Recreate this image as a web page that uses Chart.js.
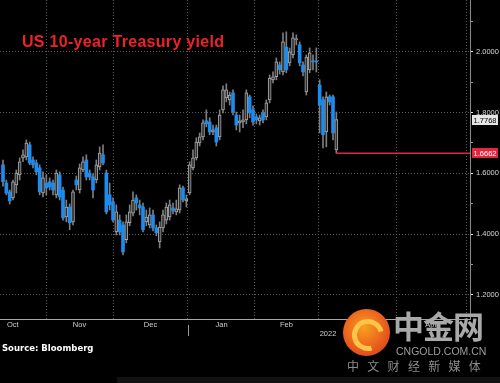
<!DOCTYPE html>
<html>
<head>
<meta charset="utf-8">
<title>US 10-year Treasury yield</title>
<script src="https://cdn.jsdelivr.net/npm/chart.js"></script>
<style>
  html, body { margin: 0; padding: 0; background: #000; }
  #wrap { position: relative; width: 500px; height: 383px; overflow: hidden; background: #000; }
  #title { position: absolute; left: 22px; top: 33px; font: bold 16px "Liberation Sans", Arial, sans-serif; letter-spacing: 0.3px; color: #ef2229; white-space: nowrap; }
  #source { position: absolute; left: 2px; top: 343px; font: bold 8.5px "DejaVu Sans", sans-serif; color: #fff; }
  .wm { position: absolute; white-space: nowrap; }
  #logo { left: 343px; top: 309px; width: 47px; height: 47px; border-radius: 50%;
          background: radial-gradient(circle at 45% 40%, #f6a11e 0%, #ee6a1e 45%, #d3301a 100%); }
  #logoIn { left: 352px; top: 319px; width: 22px; height: 22px; border-radius: 50%;
            border: 5px solid #ffc548; border-right-color: transparent; transform: rotate(30deg); }
  #cn1 { left: 393px; top: 302px; font: bold 31px "Noto Sans CJK SC", sans-serif; color: #a9a9a9; letter-spacing: -1px; }
  #cn2 { left: 396px; top: 345px; font: 10.5px "Liberation Sans", Arial, sans-serif; color: #9c9c9c; }
  #cn3 { left: 347px; top: 357px; font: 12px "Noto Sans CJK SC", sans-serif; color: #8c8c8c; letter-spacing: 8.3px; }
  #strip { position: absolute; left: 117px; top: 377px; width: 383px; height: 6px; background: #121212; }
</style>
</head>
<body>
<div id="wrap">
  <canvas id="chart"></canvas>
  <div id="title">US 10-year Treasury yield</div>
  <div id="source">Source: Bloomberg</div>
  <div id="strip"></div>
  <div class="wm" id="logo"></div>
  <div class="wm" id="logoIn"></div>
  <div class="wm" id="cn1">中金网</div>
  <div class="wm" id="cn2">CNGOLD.COM.CN</div>
  <div class="wm" id="cn3">中文财经新媒体</div>
</div>
<script>
// daily candles, Oct 2021 - early Mar 2022 (yield, %)
const opens = [
  1.628,1.568,1.539,1.519,1.562,1.595,1.651,1.654,1.694,1.644,
  1.634,1.618,1.535,1.568,1.572,1.568,1.529,1.595,1.545,1.456,
  1.489,1.440,1.578,1.545,1.611,1.644,1.601,1.588,1.578,1.621,
  1.661,1.601,1.529,1.506,1.407,1.446,1.430,1.381,1.437,1.469,
  1.519,1.496,1.489,1.440,1.430,1.463,1.420,1.374,1.420,1.446,
  1.456,1.486,1.473,1.479,1.552,1.509,1.535,1.618,1.651,1.700,
  1.720,1.773,1.769,1.736,1.750,1.720,1.809,1.848,1.842,1.865,
  1.792,1.766,1.769,1.776,1.852,1.809,1.786,1.773,1.799,1.786,
  1.842,1.908,1.918,1.957,1.934,2.016,1.964,1.990,2.040,2.023,
  1.957,1.868,1.941,1.970,1.970,1.891,1.842,1.736,1.852,1.852,
  1.677
];
const highs = [
  1.644,1.578,1.545,1.578,1.611,1.651,1.677,1.710,1.703,1.654,
  1.644,1.628,1.605,1.595,1.585,1.578,1.611,1.605,1.555,1.512,
  1.499,1.545,1.591,1.631,1.654,1.661,1.611,1.598,1.644,1.687,
  1.694,1.611,1.568,1.519,1.496,1.463,1.440,1.463,1.496,1.539,
  1.529,1.512,1.502,1.479,1.486,1.479,1.430,1.440,1.479,1.502,
  1.512,1.502,1.512,1.562,1.558,1.529,1.638,1.677,1.717,1.733,
  1.776,1.809,1.783,1.759,1.759,1.809,1.888,1.895,1.868,1.875,
  1.802,1.792,1.809,1.875,1.858,1.822,1.796,1.792,1.809,1.842,
  1.924,1.934,1.980,1.967,2.063,2.066,2.013,2.063,2.056,2.033,
  1.967,1.990,2.013,1.990,2.013,1.908,1.852,1.868,1.858,1.858,
  1.802
];
const lows = [
  1.558,1.529,1.499,1.512,1.535,1.578,1.638,1.644,1.628,1.618,
  1.595,1.529,1.522,1.529,1.545,1.529,1.519,1.512,1.446,1.440,
  1.414,1.430,1.545,1.535,1.605,1.578,1.578,1.519,1.568,1.611,
  1.628,1.466,1.479,1.440,1.397,1.397,1.331,1.371,1.427,1.460,
  1.479,1.463,1.407,1.427,1.420,1.410,1.394,1.354,1.407,1.433,
  1.446,1.466,1.463,1.469,1.506,1.489,1.529,1.611,1.644,1.690,
  1.710,1.753,1.727,1.727,1.690,1.710,1.799,1.835,1.825,1.792,
  1.743,1.736,1.750,1.763,1.783,1.759,1.763,1.759,1.766,1.776,
  1.832,1.898,1.908,1.927,1.924,1.931,1.954,1.980,2.023,1.954,
  1.921,1.858,1.931,1.941,1.934,1.733,1.684,1.687,1.825,1.710,
  1.6662
];
const closes = [
  1.572,1.535,1.509,1.572,1.601,1.638,1.661,1.700,1.634,1.628,
  1.605,1.539,1.585,1.552,1.555,1.545,1.601,1.522,1.453,1.489,
  1.437,1.539,1.562,1.618,1.638,1.588,1.588,1.545,1.628,1.667,
  1.634,1.473,1.496,1.446,1.473,1.407,1.341,1.440,1.473,1.512,
  1.502,1.486,1.414,1.456,1.463,1.420,1.404,1.423,1.463,1.489,
  1.496,1.476,1.483,1.552,1.512,1.516,1.628,1.651,1.703,1.720,
  1.766,1.763,1.736,1.743,1.703,1.792,1.875,1.875,1.858,1.802,
  1.759,1.773,1.776,1.865,1.799,1.769,1.776,1.783,1.776,1.832,
  1.914,1.918,1.967,1.941,2.033,1.941,2.000,2.046,2.043,1.964,
  1.934,1.983,1.997,1.967,1.967,1.825,1.727,1.852,1.835,1.733,
  1.7768
];

// month axis, in trading-day index units (month i starts at monthStarts[i])
const monthNames = ['Oct', 'Nov', 'Dec', 'Jan', 'Feb', 'Mar', 'Apr'];
const monthStarts = [-7, 12.9, 33.0, 55.5, 75.6, 94.5, 117.9, 139.0];
const yearLabel = '2022';
const yearLabelAt = 97.5;
const yearStart = 55.5;
const yTicks = [1.2, 1.3, 1.4, 1.5, 1.6, 1.7, 1.8, 1.9, 2.0, 2.1];

const X_MIN = -0.9, X_MAX = 140.1;
const last = closes.length - 1;
const lowMark = lows[last];

const xLabels = new Map();
monthNames.forEach((m, i) => xLabels.set(+((monthStarts[i] + monthStarts[i + 1]) / 2).toFixed(3), m));
xLabels.set(yearLabelAt, ['', yearLabel]);
const gridStarts = monthStarts.filter(v => v > X_MIN && v < X_MAX);
const xTickVals = [...gridStarts, ...xLabels.keys()].filter(v => v > X_MIN && v < X_MAX).sort((a, b) => a - b);

const isUp = i => closes[i] >= opens[i];
const BLUE = '#1d8cf0';
const RED = '#e3263e';

const priceTags = {
  id: 'priceTags',
  afterDraw(chart) {
    const { ctx, chartArea, scales } = chart;
    const xp = Math.round(scales.x.getPixelForValue(yearStart)) + 0.5;
    ctx.save();
    ctx.strokeStyle = '#9a9a9a';
    ctx.lineWidth = 1;
    ctx.beginPath();
    ctx.moveTo(xp, chartArea.bottom + 6);
    ctx.lineTo(xp, chartArea.bottom + 17);
    ctx.stroke();

    function tag(v, bg, fg) {
      const py = Math.round(scales.y.getPixelForValue(v));
      const x0 = chartArea.right + 2;
      ctx.fillStyle = bg;
      ctx.fillRect(x0, py - 5, 26, 10);
      ctx.fillStyle = fg;
      ctx.font = '7.5px "Liberation Sans", Arial, sans-serif';
      ctx.textAlign = 'center';
      ctx.textBaseline = 'middle';
      ctx.fillText(v.toFixed(4), x0 + 13, py + 0.5);
    }
    tag(closes[last], '#e6e6e6', '#000');
    tag(lowMark, RED, '#fff');
    ctx.restore();
  }
};

new Chart(document.getElementById('chart'), {
  type: 'bar',
  data: {
    datasets: [
      {
        type: 'line',
        data: [{ x: last, y: lowMark }, { x: X_MAX, y: lowMark }],
        borderColor: RED,
        borderWidth: 1.5,
        pointRadius: 0,
        order: 0
      },
      {
        data: opens.map((o, i) => ({ x: i, y: [o, closes[i]] })),
        backgroundColor: ctx => isUp(ctx.dataIndex) ? '#2e2e2e' : BLUE,
        borderColor: ctx => isUp(ctx.dataIndex) ? '#a9a9a9' : BLUE,
        borderWidth: ctx => isUp(ctx.dataIndex) ? 1 : 0,
        borderSkipped: false,
        barThickness: 3,
        minBarLength: 1,
        grouped: false,
        order: 1
      },
      {
        data: lows.map((l, i) => ({ x: i, y: [l, highs[i]] })),
        backgroundColor: '#7e7e7e',
        barThickness: 1,
        grouped: false,
        order: 2
      }
    ]
  },
  options: {
    responsive: true,
    maintainAspectRatio: false,
    animation: false,
    layout: { padding: { left: 0, right: 0, top: 0, bottom: 40 } },
    plugins: { legend: { display: false }, tooltip: { enabled: false } },
    scales: {
      x: {
        type: 'linear',
        min: X_MIN,
        max: X_MAX,
        offset: false,
        afterBuildTicks: s => { s.ticks = xTickVals.map(v => ({ value: v })); },
        afterFit: s => { s.height = 24; s.paddingLeft = 0; s.paddingRight = 0; },
        grid: {
          offset: false,
          drawTicks: false,
          color: c => (c.tick && gridStarts.includes(c.tick.value)) ? '#5e5e5e' : 'transparent'
        },
        border: { display: true, color: '#a8a8a8', width: 1, dash: [1, 2] },
        ticks: {
          autoSkip: false,
          maxRotation: 0,
          padding: 1,
          color: '#cfcfcf',
          font: { family: '"Liberation Sans", Arial, sans-serif', size: 7.5 },
          callback: v => xLabels.has(v) ? xLabels.get(v) : ''
        }
      },
      y: {
        type: 'linear',
        position: 'right',
        min: 1.12,
        max: 2.171,
        afterBuildTicks: s => { s.ticks = yTicks.map(v => ({ value: v })); },
        afterFit: s => { s.width = 30; s.paddingTop = 0; s.paddingBottom = 0; },
        grid: {
          color: c => (c.tick && Math.round(c.tick.value * 10) % 2 === 0) ? '#5e5e5e' : 'transparent',
          tickColor: c => (c.tick && Math.round(c.tick.value * 10) % 2 === 0) ? '#e6e6e6' : '#9a9a9a',
          tickLength: 3
        },
        border: { display: true, color: '#8a8a8a', width: 1, dash: [1, 2] },
        ticks: {
          padding: 3,
          color: '#d6d6d6',
          font: { family: '"Liberation Sans", Arial, sans-serif', size: 7.5 },
          callback: v => Math.round(v * 10) % 2 === 0 ? v.toFixed(4) : ''
        }
      }
    }
  },
  plugins: [priceTags]
});
</script>
</body>
</html>
